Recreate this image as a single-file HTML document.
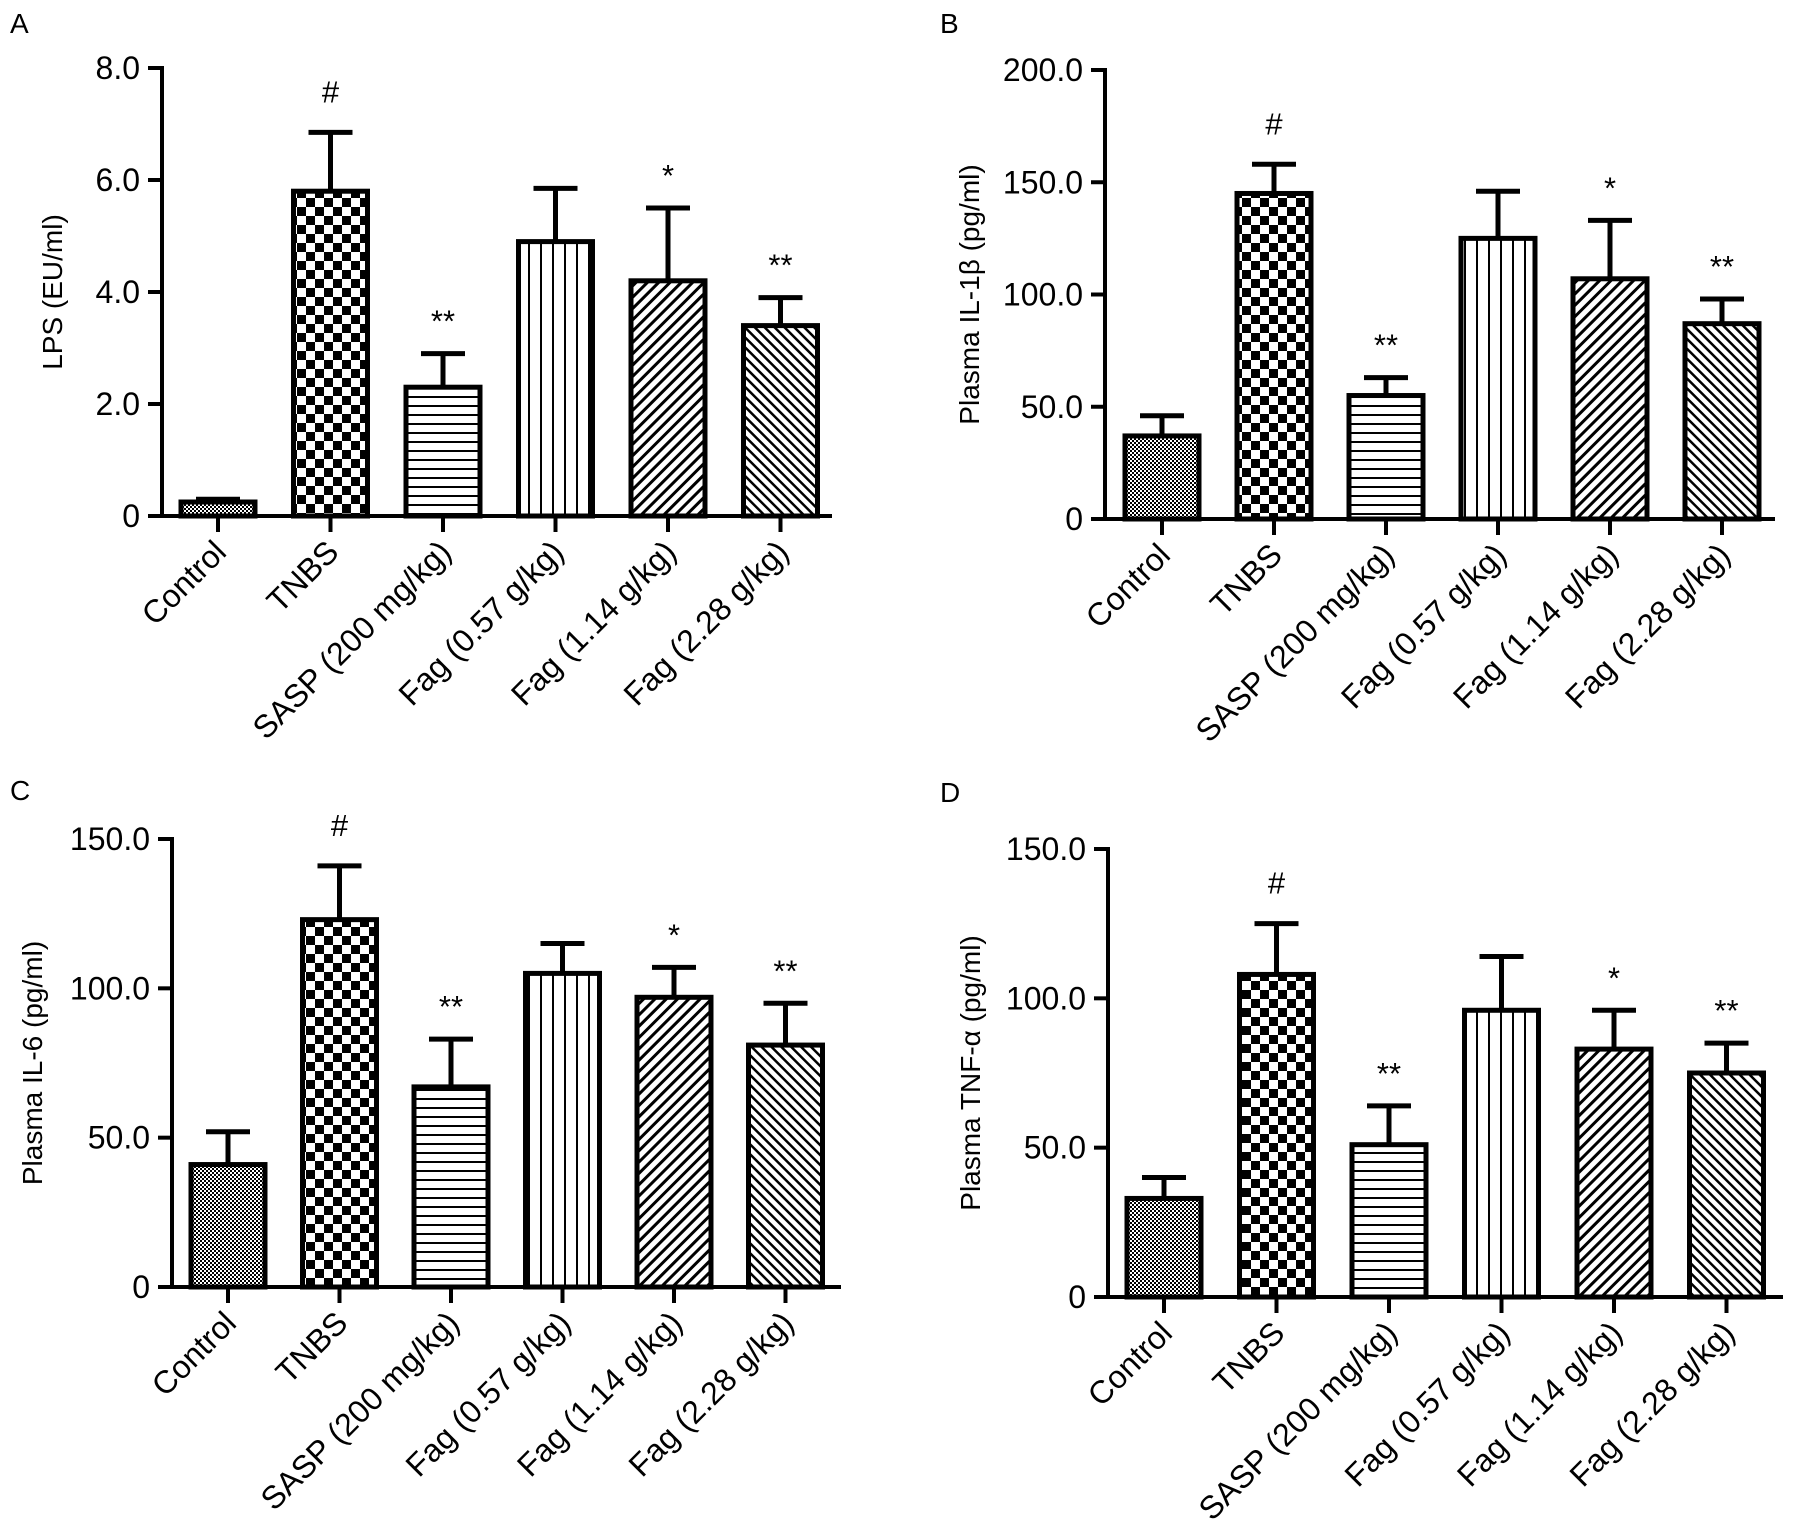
<!DOCTYPE html>
<html><head><meta charset="utf-8"><style>
html,body{margin:0;padding:0;background:#fff;}
svg{display:block;font-family:"Liberation Sans",Arial,sans-serif;}
</style></head><body>
<svg id="fig" width="1795" height="1533" viewBox="0 0 1795 1533" xmlns="http://www.w3.org/2000/svg">
<defs>
<pattern id="p0" width="4" height="4" patternUnits="userSpaceOnUse"><rect width="4" height="4" fill="#fff"/><rect width="2" height="2" fill="#000"/><rect x="2" y="2" width="2" height="2" fill="#000"/></pattern>
<pattern id="p1" width="18" height="18" patternUnits="userSpaceOnUse"><rect width="18" height="18" fill="#fff"/><rect width="9" height="9" fill="#000"/><rect x="9" y="9" width="9" height="9" fill="#000"/></pattern>
<pattern id="p2" width="9" height="9" patternUnits="userSpaceOnUse"><rect width="9" height="9" fill="#fff"/><rect y="0" width="9" height="2" fill="#000"/></pattern>
<pattern id="p3" width="12" height="12" patternUnits="userSpaceOnUse"><rect width="12" height="12" fill="#fff"/><rect x="0" width="2" height="12" fill="#000"/></pattern>
<pattern id="p4" width="8" height="8" patternUnits="userSpaceOnUse" patternTransform="rotate(45)"><rect width="8" height="8" fill="#fff"/><rect width="3" height="8" fill="#000"/></pattern>
<pattern id="p5" width="7" height="7" patternUnits="userSpaceOnUse" patternTransform="rotate(-45)"><rect width="7" height="7" fill="#fff"/><rect width="2.5" height="7" fill="#000"/></pattern>
</defs>
</svg>
<script>
const categories = ["Control","TNBS","SASP (200 mg/kg)","Fag (0.57 g/kg)","Fag (1.14 g/kg)","Fag (2.28 g/kg)"];
const marks = ["","#","**","","*","**"];
const lpsMean = [0.25,5.8,2.3,4.9,4.2,3.4];
const lpsErr = [0.05,1.05,0.6,0.95,1.3,0.5];
const il1bMean = [37,145,55,125,107,87];
const il1bErr = [9,13,8,21,26,11];
const il6Mean = [41,123,67,105,97,81];
const il6Err = [11,18,16,10,10,14];
const tnfMean = [33,108,51,96,83,75];
const tnfErr = [7,17,13,18,13,10];
const lpsTicks = ["0","2.0","4.0","6.0","8.0"];
const il1bTicks = ["0","50.0","100.0","150.0","200.0"];
const il6Ticks = ["0","50.0","100.0","150.0"];
const tnfTicks = ["0","50.0","100.0","150.0"];

const NS="http://www.w3.org/2000/svg";
const svg=document.getElementById('fig');
function mk(tag,attrs,parent){const e=document.createElementNS(NS,tag);for(const k in attrs)e.setAttribute(k,attrs[k]);(parent||svg).appendChild(e);return e;}

function panel(cfg){
  const g=mk('g',{});
  
  
  const ymax=cfg.max;
  const y=v=>cfg.y0-(v/ymax)*(cfg.y0-cfg.yTop);
  const x=i=>cfg.cx0+i*cfg.step;
  const lt=mk('text',{x:cfg.lx,y:cfg.ly,'font-size':28},g);lt.textContent=cfg.letter;
  
  
  cfg.mean.forEach((m,i)=>{
    const top=y(m), et=y(m+cfg.err[i]);
    const eb=mk('line',{x1:x(i),x2:x(i),y1:top,y2:et,stroke:'#000','stroke-width':5},g);
    
    
    mk('line',{x1:x(i)-22,x2:x(i)+22,y1:et,y2:et,stroke:'#000','stroke-width':5},g);
    const r=mk('rect',{x:x(i)-37,y:top,width:74,height:cfg.y0-top,fill:'url(#p'+i+')',stroke:'#000','stroke-width':5},g);
    
    
    if(marks[i]){const t=mk('text',{x:x(i),y:et-(marks[i]==='#'?30:22),'font-size':31,'text-anchor':'middle'},g);t.textContent=marks[i];
      
      }
    mk('line',{x1:x(i),x2:x(i),y1:cfg.y0,y2:cfg.y0+16,stroke:'#000','stroke-width':4},g);
    const cl=mk('text',{'font-size':32,'text-anchor':'end',transform:`translate(${x(i)+10},${cfg.y0+38}) rotate(-45)`},g);
    cl.textContent=categories[i];
    
    
  });
  const ya=mk('line',{x1:cfg.ax,x2:cfg.ax,y1:cfg.yTop-2,y2:cfg.y0+2,stroke:'#000','stroke-width':4},g);
  
  
  const xa=mk('line',{x1:cfg.ax-14,x2:cfg.xEnd,y1:cfg.y0,y2:cfg.y0,stroke:'#000','stroke-width':4},g);
  
  
  cfg.ticks.forEach((lab,k)=>{
    const v=k*ymax/(cfg.ticks.length-1), yy=y(v);
    mk('line',{x1:cfg.ax-14,x2:cfg.ax,y1:yy,y2:yy,stroke:'#000','stroke-width':4},g);
    const t=mk('text',{x:cfg.ax-22,y:yy+11,'font-size':32,'text-anchor':'end'},g);t.textContent=lab;
    
    
  });
  const yt=mk('text',{'font-size':28,'text-anchor':'middle',transform:`translate(${cfg.titleX},${(cfg.y0+cfg.yTop)/2}) rotate(-90)`},g);
  yt.textContent=cfg.title;
  
  
}
panel({letter:'A',lx:10,ly:33,ax:162,yTop:68,y0:516,max:8,cx0:218,step:112.5,xEnd:832,mean:lpsMean,err:lpsErr,ticks:lpsTicks,title:'LPS (EU/ml)',titleX:62});
panel({letter:'B',lx:940,ly:33,ax:1105,yTop:70,y0:519,max:200,cx0:1162,step:112,xEnd:1775,mean:il1bMean,err:il1bErr,ticks:il1bTicks,title:'Plasma IL-1β (pg/ml)',titleX:979});
panel({letter:'C',lx:10,ly:800,ax:172,yTop:839,y0:1287,max:150,cx0:228,step:111.5,xEnd:841,mean:il6Mean,err:il6Err,ticks:il6Ticks,title:'Plasma IL-6 (pg/ml)',titleX:42});
panel({letter:'D',lx:940,ly:802,ax:1108,yTop:849,y0:1297,max:150,cx0:1164,step:112.5,xEnd:1783,mean:tnfMean,err:tnfErr,ticks:tnfTicks,title:'Plasma TNF-α (pg/ml)',titleX:980});
</script>
</body></html>
